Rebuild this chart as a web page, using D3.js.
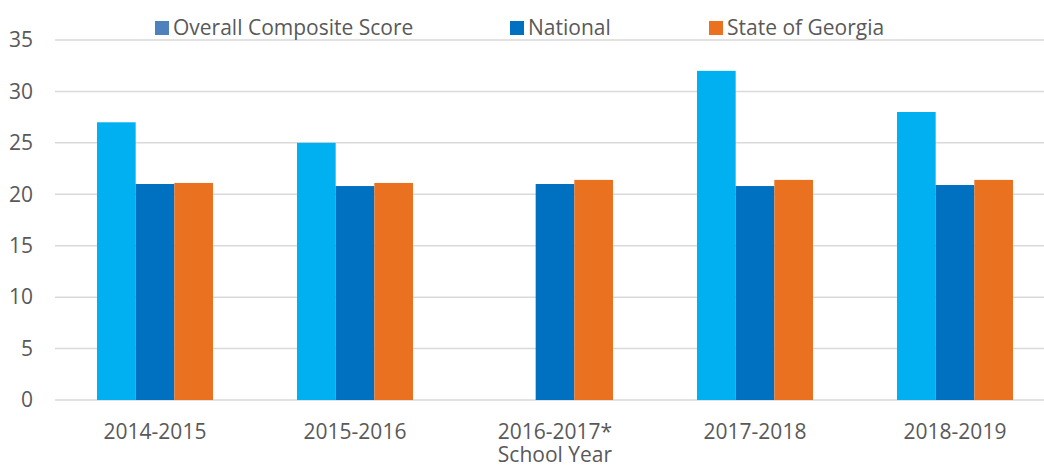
<!DOCTYPE html>
<html>
<head>
<meta charset="utf-8">
<script src="https://cdn.jsdelivr.net/npm/d3@7"></script>
<style>
  body { margin: 0; background: #fff; }
  text { font-family: "Open Sans", sans-serif; fill: #595959; }
</style>
</head>
<body>
<div id="chart"></div>
<script>
// school years on the x axis
var years = ["2014-2015", "2015-2016", "2016-2017*", "2017-2018", "2018-2019"];
// scores per series (null = no bar)
var composite = [27, 25, null, 32, 28];
var national = [21, 20.8, 21, 20.8, 20.9];
var georgia = [21.1, 21.1, 21.4, 21.4, 21.4];
var seriesNames = ["Overall Composite Score", "National", "State of Georgia"];
var yTicks = [0, 5, 10, 15, 20, 25, 30, 35];

var W = 1044, H = 468;
var margin = { left: 55, right: -11, top: 40, bottom: 68 };
var width = W - margin.left - margin.right;
var height = H - margin.top - margin.bottom;

var colors = ["#00b0f0", "#0070c0", "#e97120"];
var legendColors = ["#4f81bd", "#0070c0", "#e97120"];

var rows = years.map(function(y, i) {
    return { year: y, values: [composite[i], national[i], georgia[i]] };
});

var svg = d3.select("#chart").append("svg")
    .attr("width", W)
    .attr("height", H);

var g = svg.append("g")
    .attr("transform", "translate(" + margin.left + "," + margin.top + ")");

var x0 = d3.scaleBand().domain(years).range([0, width])
    .paddingInner(0.42).paddingOuter(0.21);
var x1 = d3.scaleBand().domain([0, 1, 2]).range([0, x0.bandwidth()]);
var y = d3.scaleLinear().domain([0, 35]).range([height, 0]);

// gridlines
g.selectAll(".grid")
    .data(yTicks)
    .enter().append("line")
    .attr("x1", 0).attr("x2", width)
    .attr("y1", function(d) { return y(d); })
    .attr("y2", function(d) { return y(d); })
    .attr("stroke", "#d9d9d9")
    .attr("stroke-width", 1.5);

// y tick labels
g.selectAll(".ylab")
    .data(yTicks)
    .enter().append("text")
    .attr("x", -22)
    .attr("y", function(d) { return y(d); })
    .attr("dy", "0.35em")
    .attr("text-anchor", "end")
    .style("font-size", "21px")
    .text(function(d) { return d; });

// bars
var groups = g.selectAll(".grp")
    .data(rows)
    .enter().append("g")
    .attr("transform", function(d) { return "translate(" + x0(d.year) + ",0)"; });

groups.selectAll("rect")
    .data(function(d) {
        return d.values.map(function(v, i) { return { i: i, v: v }; })
            .filter(function(e) { return e.v != null; });
    })
    .enter().append("rect")
    .attr("x", function(d) { return x1(d.i); })
    .attr("width", x1.bandwidth())
    .attr("y", function(d) { return y(d.v); })
    .attr("height", function(d) { return height - y(d.v); })
    .attr("fill", function(d) { return colors[d.i]; });

// x axis labels
g.selectAll(".xlab")
    .data(years)
    .enter().append("text")
    .attr("x", function(d) { return x0(d) + x0.bandwidth() / 2; })
    .attr("y", height + 39)
    .attr("text-anchor", "middle")
    .style("font-size", "21px")
    .text(function(d) { return d; });

g.append("text")
    .attr("x", x0(years[2]) + x0.bandwidth() / 2)
    .attr("y", height + 62)
    .attr("text-anchor", "middle")
    .style("font-size", "21px")
    .text("School Year");

// legend
var legendX = [155, 510, 709];
var legend = svg.selectAll(".leg")
    .data(seriesNames)
    .enter().append("g")
    .attr("transform", function(d, i) { return "translate(" + legendX[i] + ",21)"; });

legend.append("rect")
    .attr("width", 14).attr("height", 14)
    .attr("fill", function(d, i) { return legendColors[i]; });

legend.append("text")
    .attr("x", 18)
    .attr("y", 7)
    .attr("dy", "0.35em")
    .style("font-size", "21px")
    .text(function(d) { return d; });
</script>
</body>
</html>
